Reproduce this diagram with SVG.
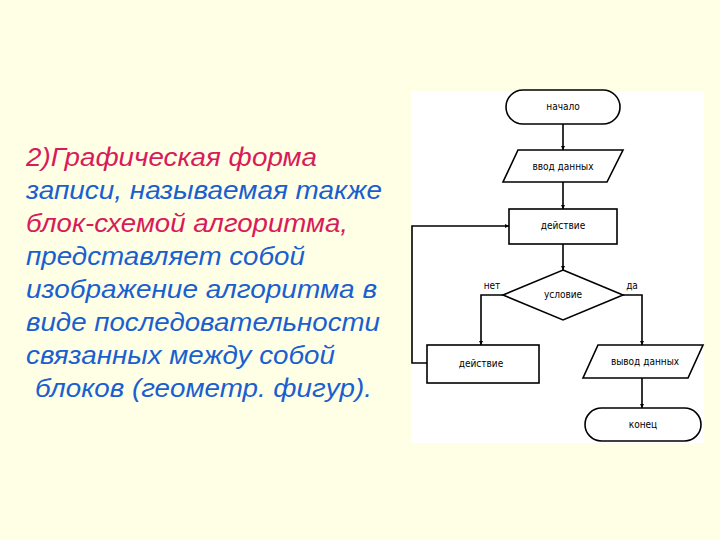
<svg xmlns="http://www.w3.org/2000/svg" width="720" height="540" viewBox="0 0 720 540">
<defs>
<marker id="ah" viewBox="0 0 10 10" refX="10" refY="5" markerWidth="4" markerHeight="5" orient="auto" markerUnits="userSpaceOnUse">
<path d="M0,0 L10,5 L0,10 z" fill="#000"/>
</marker>
<style>
.t{font-family:"Liberation Sans",Arial,sans-serif;font-style:italic;font-size:25px}
.p{fill:#D81B5A}
.b{fill:#1A5FD0}
.s{fill:#fff;stroke:#000;stroke-width:1.6}
.c{fill:none;stroke:#000;stroke-width:1.6}
.l{font-family:"DejaVu Sans Condensed","Liberation Sans Narrow","Liberation Sans",sans-serif;font-size:10px;fill:#000;text-anchor:middle;font-stretch:condensed}
</style>
</defs>
<rect x="0" y="0" width="720" height="540" fill="#FFFFE6"/>
<g id="text">
<text class="t p" x="26" y="166" textLength="291" lengthAdjust="spacingAndGlyphs">2)Графическая форма</text>
<text class="t b" x="26" y="199" textLength="356" lengthAdjust="spacingAndGlyphs">записи, называемая также</text>
<text class="t p" x="26" y="232" textLength="322" lengthAdjust="spacingAndGlyphs">блок-схемой алгоритма,</text>
<text class="t b" x="26" y="265" textLength="279" lengthAdjust="spacingAndGlyphs">представляет собой</text>
<text class="t b" x="26" y="298" textLength="351" lengthAdjust="spacingAndGlyphs">изображение алгоритма в</text>
<text class="t b" x="26" y="331" textLength="354" lengthAdjust="spacingAndGlyphs">виде последовательности</text>
<text class="t b" x="26" y="364" textLength="309" lengthAdjust="spacingAndGlyphs">связанных между собой</text>
<text class="t b" x="35" y="397" textLength="337" lengthAdjust="spacingAndGlyphs">блоков (геометр. фигур).</text>
</g>
<rect x="411" y="91" width="293" height="352" fill="#fff"/>
<g id="connectors">
<path class="c" d="M563,124 V150" marker-end="url(#ah)"/>
<path class="c" d="M563,182 V209" marker-end="url(#ah)"/>
<path class="c" d="M563,244 V270" marker-end="url(#ah)"/>
<path class="c" d="M503,295 H481 V345" marker-end="url(#ah)"/>
<path class="c" d="M623,295 H642 V345" marker-end="url(#ah)"/>
<path class="c" d="M642,378 V408" marker-end="url(#ah)"/>
<path class="c" d="M427,363 H412 V226 H509" marker-end="url(#ah)"/>
<text class="l" x="492" y="289">нет</text>
<text class="l" x="632" y="289">да</text>
</g>
<g id="start">
<rect class="s" x="506" y="90" width="114" height="34" rx="17"/>
<text class="l" x="563" y="110">начало</text>
</g>
<g id="input">
<polygon class="s" points="518,150 623,150 607,182 503,182"/>
<text class="l" x="563" y="170">ввод данных</text>
</g>
<g id="action1">
<rect class="s" x="509" y="209" width="108" height="35"/>
<text class="l" x="563" y="229">действие</text>
</g>
<g id="condition">
<polygon class="s" points="563,270 623,295 563,320 503,295"/>
<text class="l" x="563" y="298">условие</text>
</g>
<g id="action2">
<rect class="s" x="427" y="345" width="112" height="38"/>
<text class="l" x="481" y="367">действие</text>
</g>
<g id="output">
<polygon class="s" points="598,345 703,345 688,378 583,378"/>
<text class="l" x="645" y="365">вывод данных</text>
</g>
<g id="end">
<rect class="s" x="585" y="408" width="116" height="33" rx="16.5"/>
<text class="l" x="643" y="428">конец</text>
</g>
</svg>
